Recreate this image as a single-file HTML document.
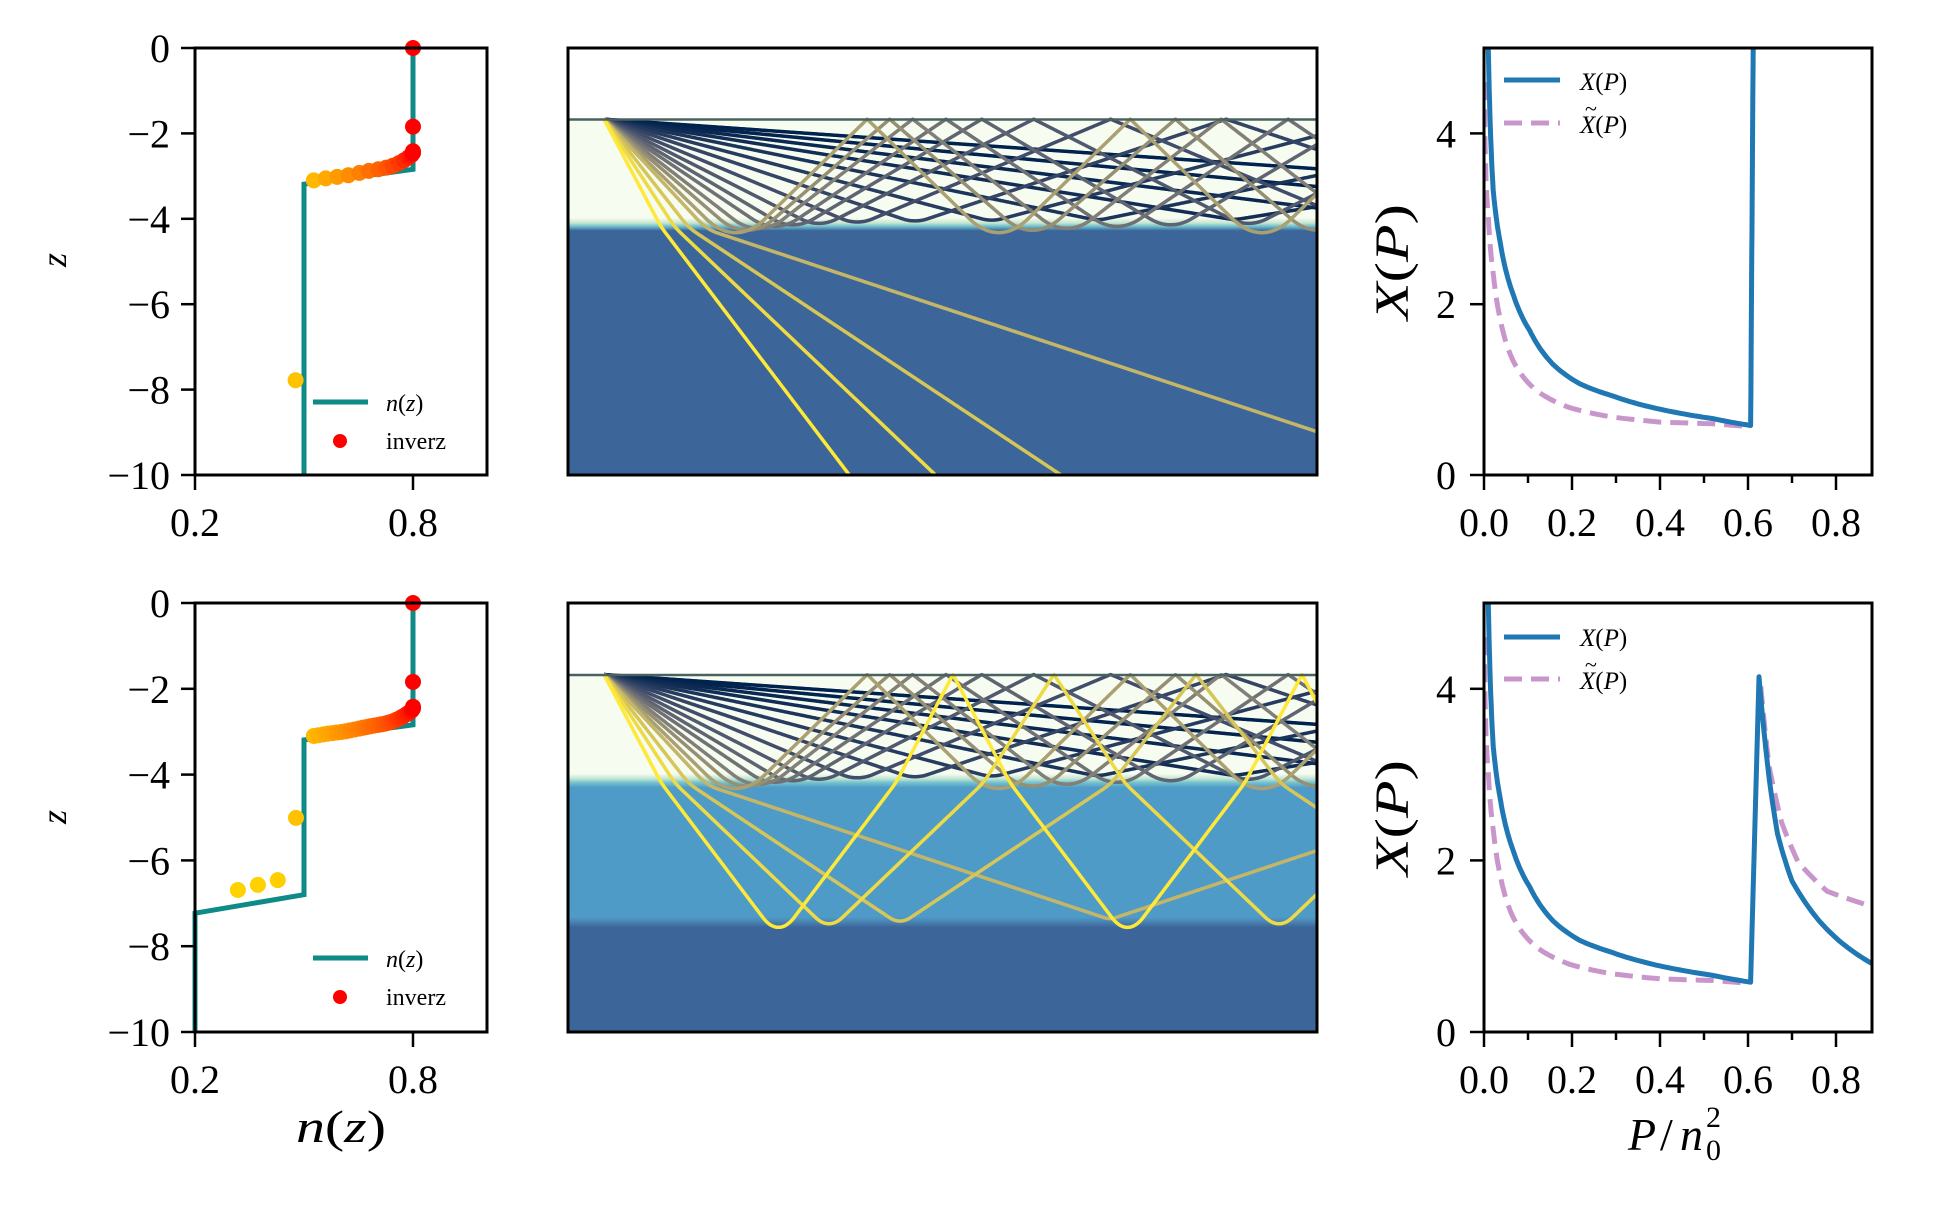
<!DOCTYPE html>
<html><head><meta charset="utf-8">
<style>
html,body{margin:0;padding:0;background:#fff;}
svg text{font-family:"Liberation Serif",serif;fill:#000;}
.it{font-style:italic;}
</style></head>
<body>
<svg id="s" width="1950" height="1200" viewBox="0 0 1950 1200" xmlns="http://www.w3.org/2000/svg">
<defs>
<linearGradient id="gTop" gradientUnits="userSpaceOnUse" x1="0" y1="48" x2="0" y2="475">
<stop offset="0" stop-color="#ffffff"/>
<stop offset="0.166" stop-color="#ffffff"/>
<stop offset="0.168" stop-color="#f7fcf0"/>
<stop offset="0.398" stop-color="#f7fcf0"/>
<stop offset="0.410" stop-color="#c4e6cf"/>
<stop offset="0.418" stop-color="#6cbccd"/>
<stop offset="0.428" stop-color="#3c6699"/>
<stop offset="1" stop-color="#3c6699"/>
</linearGradient>
<linearGradient id="gBot" gradientUnits="userSpaceOnUse" x1="0" y1="603" x2="0" y2="1032">
<stop offset="0" stop-color="#ffffff"/>
<stop offset="0.166" stop-color="#ffffff"/>
<stop offset="0.168" stop-color="#f7fcf0"/>
<stop offset="0.398" stop-color="#f7fcf0"/>
<stop offset="0.410" stop-color="#bfe5d2"/>
<stop offset="0.418" stop-color="#78c4cf"/>
<stop offset="0.430" stop-color="#4f9bc7"/>
<stop offset="0.732" stop-color="#4f9bc7"/>
<stop offset="0.742" stop-color="#4a86b6"/>
<stop offset="0.756" stop-color="#3c6699"/>
<stop offset="1" stop-color="#3c6699"/>
</linearGradient>
<clipPath id="cTop"><rect x="568" y="48" width="749" height="427"/></clipPath>
<clipPath id="cBot"><rect x="568" y="603" width="749" height="429"/></clipPath>
<clipPath id="cR1"><rect x="1484" y="48" width="388" height="427"/></clipPath>
<clipPath id="cR2"><rect x="1484" y="603" width="388" height="429"/></clipPath>
</defs>
<rect x="568" y="48" width="749" height="427" fill="url(#gTop)"/>
<rect x="568" y="603" width="749" height="429" fill="url(#gBot)"/>
<g id="raysTop" clip-path="url(#cTop)"></g>
<g id="raysBot" clip-path="url(#cBot)"></g>
<line x1="568" y1="119.5" x2="1317" y2="119.5" stroke="#4a625f" stroke-width="2.5"/>
<line x1="568" y1="675" x2="1317" y2="675" stroke="#4a625f" stroke-width="2.5"/>
<g id="left"></g>
<g id="right"></g>
<g id="axes" fill="none" stroke="#000" stroke-width="3">
<rect x="195" y="48" width="292" height="427"/>
<rect x="195" y="603" width="292" height="429"/>
<rect x="568" y="48" width="749" height="427"/>
<rect x="568" y="603" width="749" height="429"/>
<rect x="1484" y="48" width="388" height="427"/>
<rect x="1484" y="603" width="388" height="429"/>
</g>
<g id="ticks"></g>
<text class="it" font-size="36" transform="translate(66,260) rotate(-90)" text-anchor="middle">z</text>
<text class="it" font-size="36" transform="translate(66,817) rotate(-90)" text-anchor="middle">z</text>
<text font-size="48" transform="translate(1408,262) rotate(-90)" text-anchor="middle" textLength="116" lengthAdjust="spacingAndGlyphs"><tspan class="it">X</tspan>(<tspan class="it">P</tspan>)</text>
<text font-size="48" transform="translate(1408,818) rotate(-90)" text-anchor="middle" textLength="116" lengthAdjust="spacingAndGlyphs"><tspan class="it">X</tspan>(<tspan class="it">P</tspan>)</text>
<text font-size="46" x="296" y="1142" textLength="90" lengthAdjust="spacingAndGlyphs"><tspan class="it">n</tspan>(<tspan class="it">z</tspan>)</text>
<text font-size="46" x="1628" y="1150" class="it">P</text>
<text font-size="46" x="1660" y="1150">/</text>
<text font-size="46" x="1680" y="1150" class="it">n</text>
<text font-size="30" x="1706" y="1127">2</text>
<text font-size="30" x="1706" y="1160">0</text>
<line x1="313" y1="402" x2="368" y2="402" stroke="#0e8a87" stroke-width="5"/>
<text font-size="24" x="386" y="411"><tspan class="it">n</tspan>(<tspan class="it">z</tspan>)</text>
<circle cx="340" cy="441" r="7" fill="#ff0000"/>
<text font-size="24" x="386" y="449">inverz</text>
<line x1="313" y1="958" x2="368" y2="958" stroke="#0e8a87" stroke-width="5"/>
<text font-size="24" x="386" y="967"><tspan class="it">n</tspan>(<tspan class="it">z</tspan>)</text>
<circle cx="340" cy="997" r="7" fill="#ff0000"/>
<text font-size="24" x="386" y="1005">inverz</text>
<line x1="1504" y1="80" x2="1560" y2="80" stroke="#1f77b4" stroke-width="5"/>
<text font-size="25" x="1580" y="90"><tspan class="it">X</tspan>(<tspan class="it">P</tspan>)</text>
<line x1="1504" y1="123" x2="1560" y2="123" stroke="#c996cc" stroke-width="5" stroke-dasharray="18,9"/>
<text font-size="25" x="1580" y="133"><tspan class="it">X</tspan>(<tspan class="it">P</tspan>)</text>
<text font-size="22" x="1585" y="116">~</text>
<line x1="1504" y1="637" x2="1560" y2="637" stroke="#1f77b4" stroke-width="5"/>
<text font-size="25" x="1580" y="646"><tspan class="it">X</tspan>(<tspan class="it">P</tspan>)</text>
<line x1="1504" y1="679" x2="1560" y2="679" stroke="#c996cc" stroke-width="5" stroke-dasharray="18,9"/>
<text font-size="25" x="1580" y="689"><tspan class="it">X</tspan>(<tspan class="it">P</tspan>)</text>
<text font-size="22" x="1585" y="672">~</text>
</svg>
<script>
(function(){
var NS="http://www.w3.org/2000/svg";
function el(tag,attrs,parent,txt){var e=document.createElementNS(NS,tag);for(var k in attrs)e.setAttribute(k,attrs[k]);if(txt!==undefined)e.textContent=txt;parent.appendChild(e);return e;}
var ticks=document.getElementById('ticks');
function tick(x1,y1,x2,y2){el('line',{x1:x1,y1:y1,x2:x2,y2:y2,stroke:'#000','stroke-width':2.5},ticks);}
function lab(x,y,t,anchor){el('text',{x:x,y:y,'font-size':40,'text-anchor':anchor||'middle'},ticks,t);}
var rows=[{top:48,bot:475},{top:603,bot:1032}];
rows.forEach(function(r){
  var H=r.bot-r.top;
  for(var k=0;k<=5;k++){var z=-2*k;var y=r.top+(-z)/10*H;tick(181,y,195,y);lab(170,y+14,z==0?'0':'\u2212'+(-z),'end');}
  [[0.2,195],[0.8,413]].forEach(function(t){tick(t[1],r.bot,t[1],r.bot+15);lab(t[1],r.bot+61,t[0].toFixed(1));});
  [0,2,4].forEach(function(v){var y=r.bot-v/5*H;tick(1470,y,1484,y);lab(1456,y+14,''+v,'end');});
  for(var i=0;i<=8;i++){var P=i*0.1;var x=1484+P*440;if(i%2==0){tick(x,r.bot,x,r.bot+15);lab(x,r.bot+61,P.toFixed(1));}else tick(x,r.bot,x,r.bot+8);}
});
var left=document.getElementById('left');
function nx(n){return 195+(n-0.2)*363.3;}
function zy(z,r){return r.top+(-z)/10*(r.bot-r.top);}
function poly(pts,r){return pts.map(function(p){return nx(p[0]).toFixed(1)+','+zy(p[1],r).toFixed(1);}).join(' ');}
el('polyline',{points:poly([[0.8,0],[0.8,-2.84],[0.5,-3.19],[0.5,-10]],rows[0]),fill:'none',stroke:'#0e8a87','stroke-width':5},left);
el('polyline',{points:poly([[0.8,0],[0.8,-2.84],[0.5,-3.19],[0.5,-6.8],[0.2,-7.23],[0.2,-10]],rows[1]),fill:'none',stroke:'#0e8a87','stroke-width':5},left);
function dotcol(t){var g=Math.round(215*(1-t));return 'rgb(255,'+g+',0)';}
var cpts=[[0.527,-3.1],[0.57,-3.04],[0.61,-3.0],[0.65,-2.93],[0.684,-2.87],[0.718,-2.82],[0.741,-2.77],[0.763,-2.69],[0.781,-2.6],[0.795,-2.52],[0.8,-2.46]];
function curveDots(num){var out=[];for(var i=0;i<num;i++){var u=i/(num-1)*(cpts.length-1);var k=Math.min(Math.floor(u),cpts.length-2);var f=u-k;
  out.push([cpts[k][0]+(cpts[k+1][0]-cpts[k][0])*f,cpts[k][1]+(cpts[k+1][1]-cpts[k][1])*f,0.15+0.85*i/(num-1)]);}return out;}
function drawDots(list,r){list.forEach(function(d){el('circle',{cx:nx(d[0]).toFixed(1),cy:zy(d[1],r).toFixed(1),r:8,fill:dotcol(d[2])},left);});}
drawDots([[0.477,-7.78,0.1]].concat(curveDots(14)).concat([[0.8,-2.42,1],[0.8,-1.84,1],[0.8,0,1]]),rows[0]);
drawDots([[0.318,-6.69,0.02],[0.373,-6.57,0.03],[0.428,-6.46,0.04],[0.478,-5.01,0.1]].concat(curveDots(34)).concat([[0.8,-2.42,1],[0.8,-1.84,1],[0.8,0,1]]),rows[1]);
function cividis(t){
  var st=[[0,[0,34,78]],[0.25,[65,77,107]],[0.5,[124,123,120]],[0.75,[188,175,111]],[1,[254,232,56]]];
  for(var i=0;i<st.length-1;i++){if(t<=st[i+1][0]){var a=st[i],b=st[i+1];var f=(t-a[0])/(b[0]-a[0]);
    return 'rgb('+[0,1,2].map(function(k){return Math.round(a[1][k]+(b[1][k]-a[1][k])*f);}).join(',')+')';}}
  return 'rgb(254,232,56)';}
var n2=0.82,n3=0.5;
function mkN(two){
  return {N:function(z){if(z>-2.8)return 1;if(z>-3.2)return 1-(1-n2)*(-2.8-z)/0.4;if(!two)return n2;if(z>-6.8)return n2;if(z>-7.2)return n2-(n2-n3)*(-6.8-z)/0.4;return n3;},
          dN:function(z){if(z>-2.8)return 0;if(z>-3.2)return (1-n2)/0.4;if(!two)return 0;if(z>-6.8)return 0;if(z>-7.2)return (n2-n3)/0.4;return 0;},
          konst:function(z){return (z>-2.8)||(z<-3.2&&z>-6.8)||(z<-7.2);}};}
var rays=[[37,1],[43,0.94],[48,0.85],[53,0.78]];
var turn=[55.6,58.8,61.5,64.7,67.4,70.4,73.6,76.8,79.5,81.8,83.6,85,86.2,87.2];
turn.forEach(function(a,j){var f=j/(turn.length-1);rays.push([a,0.68*Math.pow(1-f,1.6)]);});
function trace(th,m,r){
  var p=Math.sin(th*Math.PI/180),x=0,z=0,w=-Math.cos(th*Math.PI/180),ds=0.003;
  var H=r.bot-r.top;
  function X(x){return 604+x*25;} function Y(z){return r.top+(2-z)/12*H;}
  var d='M'+X(0).toFixed(1)+' '+Y(0).toFixed(1);
  for(var i=0;i<300000;i++){
    var n=m.N(z);
    x+=p/n*ds; z+=w/n*ds; w+=m.dN(z)*ds;
    if(z>0){z=-z;w=-w;}
    if(m.konst(z)){var nn=m.N(z);var q=nn*nn-p*p;if(q>0.0004){w=(w<0?-1:1)*Math.sqrt(q);}}
    if(i%6==0)d+='L'+X(x).toFixed(1)+' '+Y(z).toFixed(1);
    if(x>29.2||z<-10.3)break;
  }
  d+='L'+X(x).toFixed(1)+' '+Y(z).toFixed(1);
  return d;}
[[document.getElementById('raysTop'),mkN(false),rows[0]],[document.getElementById('raysBot'),mkN(true),rows[1]]].forEach(function(c){
  for(var i=rays.length-1;i>=0;i--){
    el('path',{d:trace(rays[i][0],c[1],c[2]),fill:'none',stroke:cividis(rays[i][1]),'stroke-width':3.5,'stroke-linejoin':'round'},c[0]);
  }});
var right=document.getElementById('right');
function dense(pts){var out=[];for(var i=0;i<pts.length-1;i++){var a=pts[i],b=pts[i+1];
  for(var k=0;k<12;k++){var f=k/12;var P,Xv;
    if(a[0]>0&&b[0]>0&&a[1]>0&&b[1]>0&&b[1]<a[1]){P=Math.exp(Math.log(a[0])+(Math.log(b[0])-Math.log(a[0]))*f);Xv=Math.exp(Math.log(a[1])+(Math.log(b[1])-Math.log(a[1]))*f);}
    else{P=a[0]+(b[0]-a[0])*f;Xv=a[1]+(b[1]-a[1])*f;}
    out.push([P,Xv]);}}
  out.push(pts[pts.length-1]);return out;}
function pl(pts,r,attrs,clip){var H=r.bot-r.top;
  var s=dense(pts).map(function(p){return (1484+p[0]*440).toFixed(1)+','+(r.bot-p[1]/5*H).toFixed(1);}).join(' ');
  var g=el('g',{'clip-path':'url(#'+clip+')'},right);
  attrs.points=s;attrs.fill='none';el('polyline',attrs,g);}
var base=[[0.0098,5],[0.021,3.33],[0.036,2.75],[0.066,2.12],[0.104,1.69],[0.156,1.30],[0.217,1.07],[0.29,0.93],[0.40,0.77],[0.52,0.66],[0.606,0.58]];
var dash=[[0.001,4.6],[0.01,3.0],[0.021,2.36],[0.036,1.85],[0.066,1.34],[0.119,0.99],[0.194,0.79],[0.29,0.68],[0.40,0.62],[0.52,0.60],[0.6,0.57]];
var dAttr={stroke:'#c996cc','stroke-width':5,'stroke-dasharray':'18,9'};
var bAttr={stroke:'#1f77b4','stroke-width':5,'stroke-linejoin':'round'};
pl(dash,rows[0],Object.assign({},dAttr),'cR1');
pl(base.concat([[0.612,5.2]]),rows[0],Object.assign({},bAttr),'cR1');
pl(dash,rows[1],Object.assign({},dAttr),'cR2');
pl([[0.629,4.03],[0.648,3.1],[0.676,2.45],[0.714,1.98],[0.78,1.64],[0.884,1.46]],rows[1],Object.assign({},dAttr),'cR2');
pl(base.concat([[0.625,4.14],[0.648,2.96],[0.667,2.31],[0.70,1.76],[0.761,1.30],[0.808,1.06],[0.884,0.79]]),rows[1],Object.assign({},bAttr),'cR2');
})();
</script>
</body></html>
